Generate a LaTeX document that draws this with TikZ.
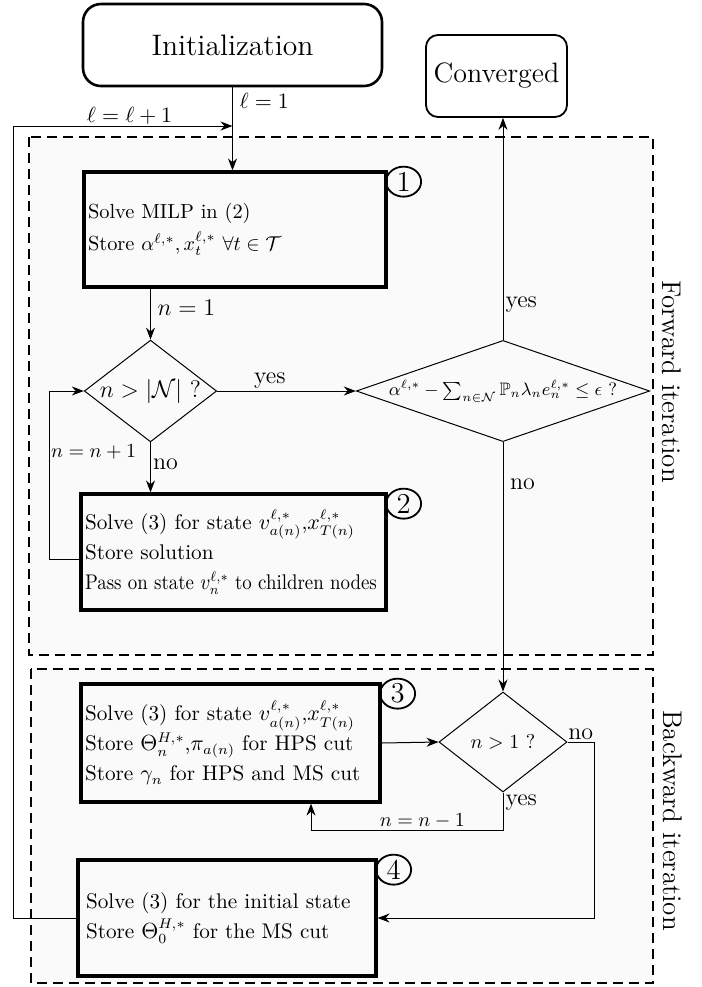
\documentclass[tikz,border=0pt]{standalone}
\usepackage{amssymb}
\usetikzlibrary{arrows.meta,shapes.geometric}
\begin{document}
\begin{tikzpicture}[x=1pt,y=1pt]
\tikzset{zone/.style={draw, line width=1pt, dash pattern=on 5pt off 3pt, fill=black!2}}
\tikzset{boite/.style={draw, line width=1.6pt, fill=black!2, inner xsep=2pt, inner ysep=0pt, align=left, font=\fontsize{10.6}{15}\selectfont}}
\tikzset{losange/.style={draw, diamond, inner sep=0pt, line width=0.5pt}}
\tikzset{rond/.style={draw, ellipse, line width=0.9pt, inner sep=0pt, minimum width=17.5pt, minimum height=15pt, font=\Large, anchor=north west, xshift=1.5pt}}
\tikzset{fleche/.style={-{Stealth[length=6pt,width=4.5pt]}, line width=0.5pt}}
\tikzset{titre/.style={rotate=-90, font=\fontsize{13.5}{16}\selectfont}}
\useasboundingbox (0,0) rectangle (351,-493.5);
\draw[zone] (14.5,-68.5) rectangle (326.5,-327.5);
\draw[zone] (15.3,-334.5) rectangle (326.5,-491.5);
\node[titre] (Fwd) at (336,-190.75) {Forward iteration};
\node[titre] (Bwd) at (336.5,-410.25) {Backward iteration};
\node[draw, rounded corners=9pt, line width=1.3pt, minimum width=149.5pt, minimum height=41pt, font=\fontsize{14.8}{17}\selectfont] (Init) at (116.25,-22.5) {Initialization};
\node[draw, rounded corners=6pt, line width=0.9pt, minimum width=70.5pt, minimum height=41pt, font=\fontsize{14}{16}\selectfont] (Conv) at (248.25,-38) {Converged};
\node[boite, text width=147pt, minimum height=57.5pt, font=\fontsize{10.2}{16}\selectfont] (E1) at (117.5,-114.75) {Solve MILP in (2)\\Store $\alpha^{\ell,*}, x_t^{\ell,*}\ \forall t\in\mathcal{T}$};
\node[rond] (R1) at (E1.north east) {1};
\node[losange, aspect=1.3, minimum width=64.5pt, minimum height=49pt, font=\fontsize{12}{14}\selectfont] (T1) at (75.25,-195.5) {$n>|\mathcal{N}|$ ?};
\node[losange, aspect=2.9, minimum width=145pt, minimum height=49pt, font=\small] (T2) at (251.5,-195.5) {$\alpha^{\ell,*}-\sum_{n\in\mathcal{N}}\mathbb{P}_n\lambda_n e_n^{\ell,*}\leq\epsilon$ ?};
\node[boite, text width=148.5pt, minimum height=58pt] (E2) at (116.75,-276) {Solve (3) for state $v_{a(n)}^{\ell,*}$,$x_{T(n)}^{\ell,*}$\\Store solution\\\scalebox{0.89}[1]{Pass on state $v_n^{\ell,*}$ to children nodes}};
\node[rond] (R2) at (E2.north east) {2};
\node[boite, text width=145.5pt, minimum height=59pt] (E3) at (115.25,-371.5) {Solve (3) for state $v_{a(n)}^{\ell,*}$,$x_{T(n)}^{\ell,*}$\\Store $\Theta_n^{H,*}$,$\pi_{a(n)}$ for HPS cut\\Store $\gamma_n$ for HPS and MS cut};
\node[rond] (R3) at (E3.north east) {3};
\node[losange, aspect=1.28, minimum width=64pt, minimum height=50pt] (T3) at (251.5,-371) {$n>1$ ?};
\node[boite, inner xsep=4pt, text width=141pt, minimum height=58pt] (E4) at (113.5,-459) {Solve (3) for the initial state\\Store $\Theta_0^{H,*}$ for the MS cut};
\node[rond] (R4) at (E4.north east) {4};
\coordinate (M) at (Init.south |- 0,-63);
\coordinate (G) at (6.75,-63);
\coordinate (L) at (24.75,-195.5);
\coordinate (R) at (155.5,-415);
\draw[fleche] (Init.south) -- node[right, pos=0.16, font=\fontsize{11}{13}\selectfont]{$\ell=1$} (Init.south |- E1.north);
\draw[line width=0.5pt] (E4.west) -| (G);
\draw[fleche] (G) -- node[above, pos=0.53, inner sep=0.5pt, font=\fontsize{10.5}{13}\selectfont]{$\ell=\ell+1$} (M);
\draw[fleche] (T1.north |- E1.south) -- node[right, pos=0.38, font=\large]{$n=1$} (T1.north);
\draw[fleche] (T1.south) -- node[right, pos=0.43, font=\large, inner sep=1pt]{no} (T1.south |- E2.north);
\draw[fleche] (T1.east) -- node[above, pos=0.38, font=\large, inner sep=1pt]{yes} (T2.west);
\draw[line width=0.5pt] ([yshift=-3.5pt]E2.west) -| node[right, pos=0.82, inner sep=0.5pt]{$n=n+1$} (L);
\draw[fleche] (L) -- (T1.west);
\draw[fleche] (T2.north) -- node[right, pos=0.16, font=\large, inner sep=1pt]{yes} (T2.north |- Conv.south);
\draw[fleche] (T2.south) -- node[right, pos=0.17, font=\large]{no} (T3.north);
\draw[fleche] (E3.east) -- (T3.west);
\draw[fleche] (T3.east) -- node[above, inner sep=1pt, font=\large]{no} ++(13.25,0) |- (E4.east);
\draw[line width=0.5pt] (T3.south) |- node[right, pos=0.13, font=\large, inner sep=1pt]{yes} node[above, pos=0.71, inner sep=0.5pt]{$n=n-1$} (R);
\draw[fleche] (R) -- (R |- E3.south);
\end{tikzpicture}
\end{document}
